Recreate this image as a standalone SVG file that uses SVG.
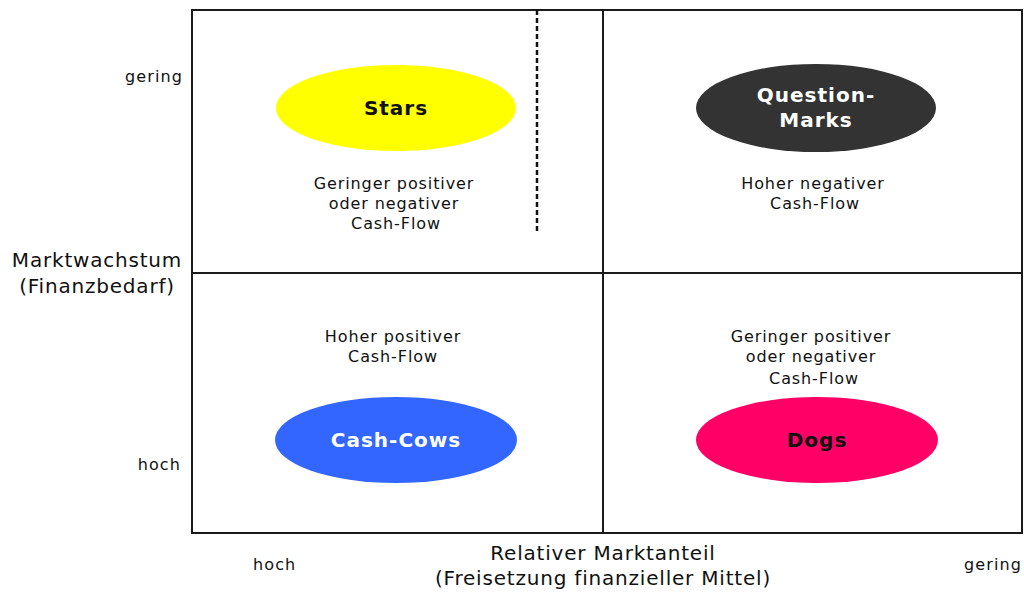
<svg xmlns="http://www.w3.org/2000/svg" width="1024" height="592" viewBox="0 0 1024 592">
  <style>
    text { font-family: "DejaVu Sans", Verdana, sans-serif; fill: #111; }
    .note { font-size: 16px; letter-spacing: 0.9px; text-anchor: middle; }
    .tick { font-size: 16px; letter-spacing: 1.1px; }
    .axis { font-size: 20px; letter-spacing: 0.8px; text-anchor: middle; }
    .name { font-size: 20px; letter-spacing: 1px; font-weight: bold; text-anchor: middle; }
    .light { fill: #ffffff; }
    .frame { fill: none; stroke: #1a1a1a; stroke-width: 2; }
    .split { stroke: #1a1a1a; stroke-width: 2; }
  </style>
  <rect width="1024" height="592" fill="#ffffff"/>

  <!-- portfolio grid -->
  <g id="grid">
    <rect class="frame" x="192" y="10" width="830" height="523"/>
    <line class="split" x1="603" y1="10" x2="603" y2="533"/>
    <line class="split" x1="192" y1="273" x2="1022" y2="273"/>
    <line x1="537" y1="10" x2="537" y2="232" stroke="#111" stroke-width="2.5" stroke-dasharray="5,3"/>
  </g>

  <!-- axis labels -->
  <g id="axis-y">
    <text class="axis" x="97" y="267">Marktwachstum</text>
    <text class="axis" x="97" y="293">(Finanzbedarf)</text>
    <text class="tick" x="183" y="82" text-anchor="end">gering</text>
    <text class="tick" x="181" y="470" text-anchor="end">hoch</text>
  </g>
  <g id="axis-x">
    <text class="axis" x="603" y="560">Relativer Marktanteil</text>
    <text class="axis" x="603" y="585">(Freisetzung finanzieller Mittel)</text>
    <text class="tick" x="253" y="570">hoch</text>
    <text class="tick" x="1022" y="570" text-anchor="end">gering</text>
  </g>

  <!-- quadrants -->
  <g id="stars">
    <ellipse cx="396" cy="108" rx="120" ry="43" fill="#ffff00"/>
    <text class="name" x="396" y="115">Stars</text>
    <text class="note" x="394" y="189">Geringer positiver</text>
    <text class="note" x="394" y="209">oder negativer</text>
    <text class="note" x="396" y="229">Cash-Flow</text>
  </g>
  <g id="question-marks">
    <ellipse cx="816" cy="108" rx="120" ry="44" fill="#333333"/>
    <text class="name light" x="816" y="102">Question-</text>
    <text class="name light" x="816" y="127">Marks</text>
    <text class="note" x="813" y="189">Hoher negativer</text>
    <text class="note" x="815" y="209">Cash-Flow</text>
  </g>
  <g id="cash-cows">
    <ellipse cx="396" cy="440" rx="121" ry="43" fill="#3366ff"/>
    <text class="name light" x="396" y="447">Cash-Cows</text>
    <text class="note" x="393" y="342">Hoher positiver</text>
    <text class="note" x="393" y="362">Cash-Flow</text>
  </g>
  <g id="dogs">
    <ellipse cx="817" cy="440" rx="121" ry="43" fill="#ff0066"/>
    <text class="name" x="817" y="447">Dogs</text>
    <text class="note" x="811" y="342">Geringer positiver</text>
    <text class="note" x="811" y="362">oder negativer</text>
    <text class="note" x="814" y="384">Cash-Flow</text>
  </g>
</svg>
